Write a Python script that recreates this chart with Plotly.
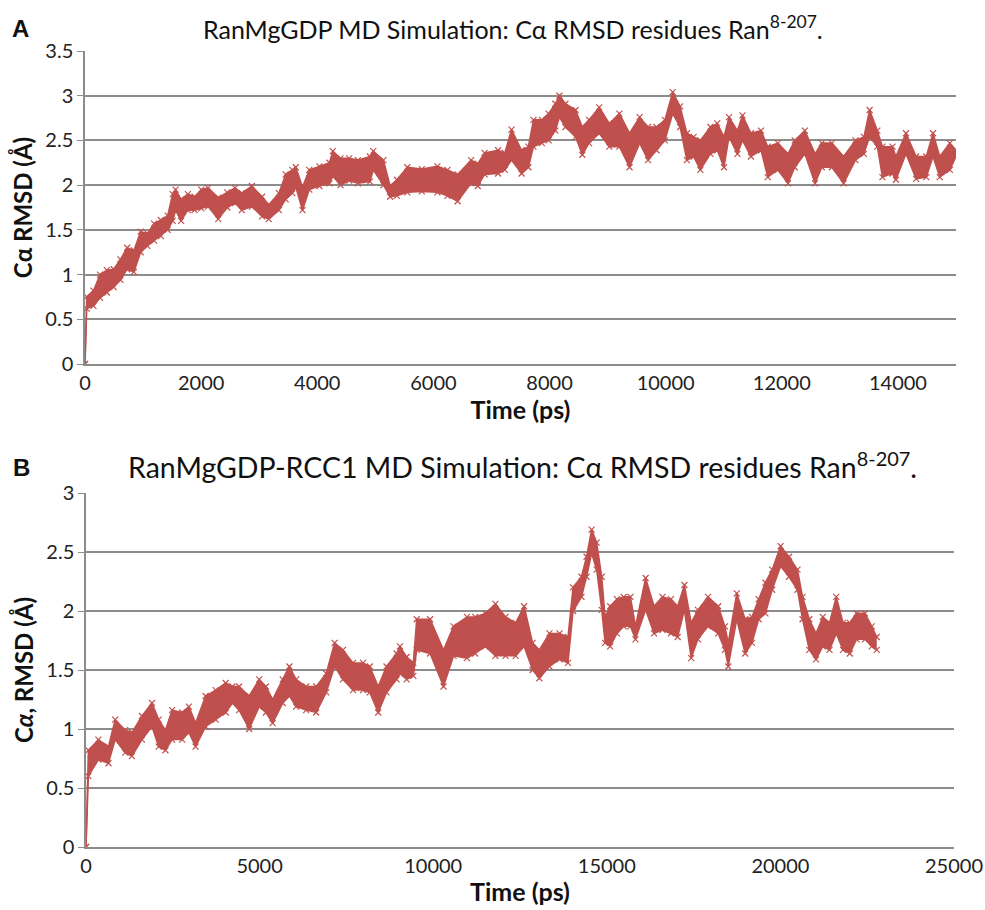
import plotly.graph_objects as go

# ---------- Panel A: RanMgGDP (time in ps, RMSD lower / upper edge of trace band in Å)
time_a = [0, 30, 145, 260, 377, 494, 610, 726, 842, 958, 1074, 1190, 1307, 1423, 1510, 1560,
          1655, 1771, 1887, 2003, 2120, 2294, 2450, 2584, 2700, 2874, 3049, 3165, 3339, 3455,
          3571, 3630, 3746, 3862, 4036, 4210, 4268, 4400, 4550, 4700, 4907, 4965, 5139, 5255,
          5371, 5550, 5800, 6068, 6242, 6417, 6649, 6765, 6881, 7114, 7230, 7345, 7519, 7636,
          7723, 7868, 7984, 8100, 8170, 8274, 8448, 8565, 8681, 8855, 9029, 9203, 9378, 9552,
          9697, 9842, 9987, 10121, 10249, 10365, 10481, 10597, 10771, 10888, 11004, 11091,
          11236, 11323, 11468, 11642, 11758, 11933, 12107, 12223, 12397, 12572, 12688, 12862,
          13065, 13268, 13414, 13512, 13645, 13733, 13907, 13965, 14139, 14313, 14488, 14604,
          14720, 14894, 15000]
rmsd_a_low = [0, 0.62, 0.65, 0.74, 0.80, 0.86, 0.94, 1.06, 1.03, 1.25, 1.32, 1.38, 1.43, 1.50, 1.60, 1.72,
              1.60, 1.72, 1.72, 1.74, 1.76, 1.62, 1.75, 1.80, 1.72, 1.76, 1.65, 1.62, 1.72, 1.84,
              1.91, 1.98, 1.72, 1.95, 1.99, 2.02, 2.10, 2.00, 2.05, 2.02, 2.04, 2.17, 2.00, 1.87,
              1.88, 1.92, 1.93, 1.92, 1.88, 1.82, 2.02, 1.99, 2.12, 2.13, 2.17, 2.28, 2.13, 2.20,
              2.43, 2.47, 2.50, 2.61, 2.76, 2.65, 2.54, 2.34, 2.47, 2.58, 2.43, 2.43, 2.20, 2.47,
              2.28, 2.39, 2.50, 2.80, 2.65, 2.28, 2.32, 2.17, 2.35, 2.39, 2.20, 2.54,
              2.35, 2.50, 2.32, 2.39, 2.09, 2.17, 2.02, 2.20, 2.35, 2.02, 2.20, 2.20,
              2.02, 2.28, 2.35, 2.54, 2.43, 2.09, 2.13, 2.06, 2.35, 2.07, 2.09, 2.32,
              2.09, 2.17, 2.32]
rmsd_a_high = [0, 0.75, 0.82, 1.00, 1.05, 1.06, 1.17, 1.30, 1.27, 1.48, 1.46, 1.57, 1.61, 1.66, 1.90, 1.95,
               1.84, 1.90, 1.87, 1.95, 1.97, 1.86, 1.92, 1.97, 1.91, 1.99, 1.87, 1.78, 1.91, 2.12,
               2.17, 2.20, 1.98, 2.17, 2.21, 2.25, 2.38, 2.30, 2.30, 2.28, 2.32, 2.38, 2.28, 1.99,
               2.06, 2.20, 2.18, 2.21, 2.17, 2.12, 2.28, 2.24, 2.36, 2.39, 2.36, 2.62, 2.39, 2.43,
               2.73, 2.73, 2.80, 2.91, 3.00, 2.91, 2.84, 2.65, 2.73, 2.87, 2.69, 2.80, 2.58, 2.76,
               2.65, 2.65, 2.73, 3.04, 2.88, 2.58, 2.54, 2.50, 2.65, 2.69, 2.54, 2.76,
               2.61, 2.78, 2.58, 2.61, 2.43, 2.47, 2.35, 2.50, 2.61, 2.35, 2.47, 2.47,
               2.32, 2.50, 2.54, 2.84, 2.61, 2.43, 2.43, 2.32, 2.58, 2.32, 2.32, 2.58,
               2.32, 2.47, 2.39]

# ---------- Panel B: RanMgGDP-RCC1
time_b = [0, 68, 357, 647, 840, 1129, 1322, 1612, 1901, 2094, 2287, 2480, 2770, 2963, 3156, 3445,
          3735, 4024, 4217, 4410, 4700, 4989, 5182, 5375, 5665, 5858, 6051, 6340, 6630, 6919,
          7160, 7401, 7691, 7980, 8174, 8415, 8656, 8946, 9042, 9235, 9428, 9525, 9911, 10297,
          10586, 10972, 11209, 11500, 11792, 12084, 12376, 12619, 12862, 13056, 13348, 13639,
          13882, 14028, 14271, 14417, 14563, 14708, 14854, 14951, 15097, 15292, 15486, 15680,
          15826, 16118, 16361, 16604, 16847, 17041, 17236, 17430, 17624, 17916, 18208, 18402,
          18499, 18742, 18985, 19180, 19374, 19568, 19763, 20006, 20249, 20492, 20638, 20832,
          21026, 21221, 21415, 21609, 21804, 21998, 22192, 22435, 22630, 22775]
rmsd_b_low = [0, 0.60, 0.74, 0.71, 0.91, 0.80, 0.77, 0.91, 1.02, 0.85, 0.82, 0.91, 0.91, 0.97, 0.85, 1.02,
              1.08, 1.14, 1.22, 1.16, 1.00, 1.19, 1.14, 1.05, 1.22, 1.28, 1.19, 1.16, 1.14, 1.31,
              1.53, 1.42, 1.33, 1.33, 1.31, 1.14, 1.31, 1.42, 1.47, 1.42, 1.45, 1.67, 1.64, 1.36,
              1.62, 1.60, 1.64, 1.70, 1.62, 1.62, 1.62, 1.70, 1.50, 1.43, 1.53, 1.59,
              1.56, 2.00, 2.12, 2.29, 2.49, 2.35, 2.01, 1.73, 1.70, 1.81, 1.87, 1.87,
              1.76, 2.01, 1.81, 1.84, 1.81, 1.78, 2.01, 1.60, 1.76, 1.87, 1.81, 1.67,
              1.53, 1.93, 1.64, 1.73, 1.93, 1.98, 2.18, 2.38, 2.29, 2.18, 1.93, 1.67,
              1.59, 1.70, 1.67, 1.81, 1.67, 1.64, 1.76, 1.76, 1.70, 1.67]
rmsd_b_high = [0, 0.82, 0.91, 0.85, 1.08, 0.99, 0.97, 1.11, 1.22, 1.08, 0.99, 1.16, 1.14, 1.19, 1.05, 1.28,
               1.33, 1.39, 1.36, 1.36, 1.28, 1.42, 1.36, 1.25, 1.42, 1.53, 1.42, 1.36, 1.36, 1.47,
               1.73, 1.67, 1.56, 1.56, 1.53, 1.36, 1.53, 1.64, 1.70, 1.61, 1.56, 1.93, 1.93, 1.67,
               1.87, 1.95, 1.95, 1.98, 2.06, 1.95, 1.90, 2.04, 1.73, 1.67, 1.81, 1.81,
               1.78, 2.20, 2.29, 2.46, 2.69, 2.58, 2.29, 1.95, 2.04, 2.10, 2.12, 2.12,
               1.87, 2.28, 2.04, 2.12, 2.10, 2.04, 2.22, 1.90, 2.01, 2.12, 2.04, 1.87,
               1.73, 2.15, 1.93, 1.95, 2.10, 2.24, 2.35, 2.55, 2.46, 2.35, 2.12, 1.93,
               1.81, 1.95, 1.90, 2.12, 1.90, 1.90, 1.98, 1.98, 1.87, 1.78]

y_ticks_a = [0, 0.5, 1, 1.5, 2, 2.5, 3, 3.5]
x_ticks_a = [0, 2000, 4000, 6000, 8000, 10000, 12000, 14000]
y_ticks_b = [0, 0.5, 1, 1.5, 2, 2.5, 3]
x_ticks_b = [0, 5000, 10000, 15000, 20000, 25000]

RED = "#C0504D"
GRID = "#8C8C8C"
FONT = "Lato"

fig = go.Figure()


def add_band(t, lo, hi, xa, ya):
    fig.add_trace(go.Scatter(x=t, y=lo, mode="lines+markers", xaxis=xa, yaxis=ya,
                             line=dict(color=RED, width=1.5),
                             marker=dict(symbol="x-thin", size=6, line=dict(color=RED, width=1.2)),
                             showlegend=False, hoverinfo="skip"))
    fig.add_trace(go.Scatter(x=t, y=hi, mode="lines+markers", xaxis=xa, yaxis=ya,
                             fill="tonexty", fillcolor=RED,
                             line=dict(color=RED, width=1.5),
                             marker=dict(symbol="x-thin", size=6, line=dict(color=RED, width=1.2)),
                             showlegend=False, hoverinfo="skip"))


add_band(time_a, rmsd_a_low, rmsd_a_high, "x", "y")
add_band(time_b, rmsd_b_low, rmsd_b_high, "x2", "y2")

W, H = 985, 910

axis_common = dict(showgrid=True, gridcolor=GRID, gridwidth=1.5, showline=True,
                   linecolor=GRID, linewidth=1.5, zeroline=False, automargin=False,
                   tickfont=dict(family=FONT, size=20, color="#222"))
xtitle_font = dict(family=FONT, size=25, color="#111")
ytitle_font = dict(family=FONT, size=24, color="#111")

fig.update_layout(
    width=W, height=H, margin=dict(l=0, r=0, t=0, b=0),
    paper_bgcolor="white", plot_bgcolor="white",
    xaxis=dict(axis_common, domain=[85 / W, 956 / W], anchor="y", range=[0, 15000],
               tickvals=x_ticks_a, tickformat="d", showgrid=False, ticks="",
               title=dict(text="<b>Time (ps)</b>", font=xtitle_font, standoff=4)),
    yaxis=dict(axis_common, domain=[1 - 364 / H, 1 - 51 / H], anchor="x", range=[0, 3.5],
               tickvals=y_ticks_a, ticks="outside", ticklen=6, tickcolor=GRID,
               title=dict(text="<b>Cα RMSD (Å)</b>", font=ytitle_font, standoff=6)),
    xaxis2=dict(axis_common, domain=[86 / W, 954 / W], anchor="y2", range=[0, 25000],
                tickvals=x_ticks_b, tickformat="d", showgrid=False, ticks="",
                title=dict(text="<b>Time (ps)</b>", font=xtitle_font, standoff=8)),
    yaxis2=dict(axis_common, domain=[1 - 847 / H, 1 - 493 / H], anchor="x2", range=[0, 3],
                tickvals=y_ticks_b, ticks="outside", ticklen=6, tickcolor=GRID,
                title=dict(text="<b>C<i>α</i>, RMSD (Å)</b>", font=ytitle_font, standoff=6)),
)

fig.add_annotation(text="RanMgGDP MD Simulation: Cα RMSD residues Ran<sup>8-207</sup>.",
                   xref="paper", yref="paper", x=513 / W, y=1 - 27 / H, showarrow=False,
                   xanchor="center", yanchor="middle", font=dict(family=FONT, size=25, color="#111"))
fig.add_annotation(text="<b>A</b>", xref="paper", yref="paper", x=20 / W, y=1 - 28 / H,
                   showarrow=False, xanchor="center", yanchor="middle",
                   font=dict(family="Liberation Sans", size=24, color="#111"))
fig.add_annotation(text="RanMgGDP-RCC1 MD Simulation: Cα RMSD residues Ran<sup>8-207</sup>.",
                   xref="paper", yref="paper", x=522 / W, y=1 - 465 / H, showarrow=False,
                   xanchor="center", yanchor="middle", font=dict(family=FONT, size=28.5, color="#111"))
fig.add_annotation(text="<b>B</b>", xref="paper", yref="paper", x=21 / W, y=1 - 468 / H,
                   showarrow=False, xanchor="center", yanchor="middle",
                   font=dict(family="Liberation Sans", size=24, color="#111"))

fig.write_html("out.html", config={"displayModeBar": False},
               post_script="document.body.style.margin='0px';document.body.style.overflow='hidden';")
